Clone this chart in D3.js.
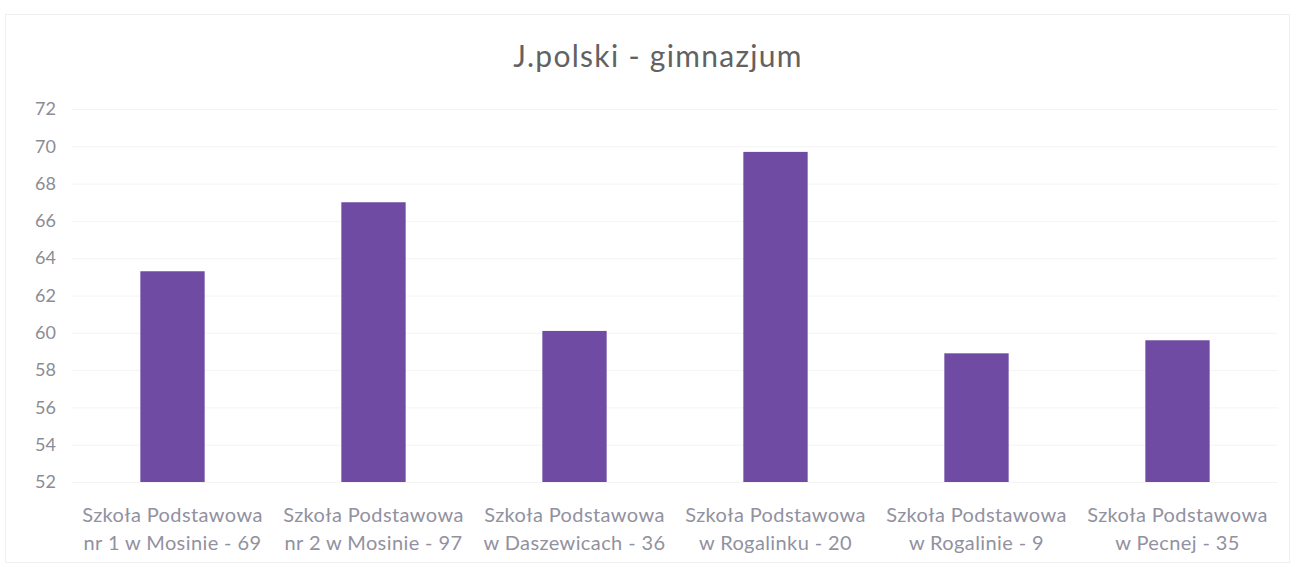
<!DOCTYPE html>
<html>
<head>
<meta charset="utf-8">
<script src="https://cdn.jsdelivr.net/npm/d3@7"></script>
<style>
  body { margin: 0; background: #fff; }
  svg { display: block; font-family: Lato, "Open Sans", sans-serif; }
</style>
</head>
<body>
<svg width="1296" height="567"></svg>
<script>
const title = 'J.polski - gimnazjum';
const schools = [
  'Szkoła Podstawowa|nr 1 w Mosinie - 69',
  'Szkoła Podstawowa|nr 2 w Mosinie - 97',
  'Szkoła Podstawowa|w Daszewicach - 36',
  'Szkoła Podstawowa|w Rogalinku - 20',
  'Szkoła Podstawowa|w Rogalinie - 9',
  'Szkoła Podstawowa|w Pecnej - 35'
];
const scores = [63.3, 67.0, 60.1, 69.7, 58.9, 59.6];
const yTicks = [52, 54, 56, 58, 60, 62, 64, 66, 68, 70, 72];

const svg = d3.select('svg');
const margin = { top: 109, right: 18, bottom: 85, left: 72 };
const width = +svg.attr('width') - margin.left - margin.right;
const height = +svg.attr('height') - margin.top - margin.bottom;

// faint chart frame
svg.append('rect')
  .attr('x', 5.5).attr('y', 14.5)
  .attr('width', 1284).attr('height', 548)
  .attr('fill', 'none')
  .attr('stroke', '#efefef');

svg.append('text')
  .attr('x', 658).attr('y', 67)
  .attr('text-anchor', 'middle')
  .attr('font-size', 30)
  .attr('letter-spacing', 1.3)
  .attr('fill', '#626262')
  .text(title);

const g = svg.append('g').attr('transform', `translate(${margin.left},${margin.top})`);

const x = d3.scaleBand().domain(schools).range([0, width]).paddingInner(0.68).paddingOuter(0.34);
const y = d3.scaleLinear().domain([52, 72]).range([height, 0]);

// gridlines
g.append('g')
  .selectAll('line')
  .data(yTicks)
  .join('line')
  .attr('x1', 0).attr('x2', width)
  .attr('y1', d => y(d) + 0.5).attr('y2', d => y(d) + 0.5)
  .attr('stroke', '#f4f4f4');

// y axis
const yAxis = g.append('g')
  .call(d3.axisLeft(y).tickValues(yTicks).tickSize(0).tickPadding(16));
yAxis.select('.domain').remove();
yAxis.selectAll('text')
  .attr('font-size', 18)
  .attr('font-family', 'Lato, sans-serif')
  .attr('fill', '#8c8c94');

// bars
g.selectAll('rect.bar')
  .data(schools)
  .join('rect')
  .attr('class', 'bar')
  .attr('x', d => x(d))
  .attr('width', x.bandwidth())
  .attr('y', (d, i) => y(scores[i]))
  .attr('height', (d, i) => y(52) - y(scores[i]))
  .attr('fill', '#6f4ba4');

// x axis labels
const xAxis = g.append('g')
  .attr('transform', `translate(0,${height})`)
  .call(d3.axisBottom(x).tickSize(0).tickFormat(''));
xAxis.select('.domain').remove();
xAxis.selectAll('.tick').each(function(d) {
  const t = d3.select(this).append('text')
    .attr('text-anchor', 'middle')
    .attr('font-size', 20)
    .attr('letter-spacing', 0.4)
    .attr('font-family', 'Lato, sans-serif')
    .attr('fill', '#9191a0');
  d.split('|').forEach((line, i) => {
    t.append('tspan').attr('x', 0).attr('y', 40 + i * 28).text(line);
  });
});
</script>
</body>
</html>
